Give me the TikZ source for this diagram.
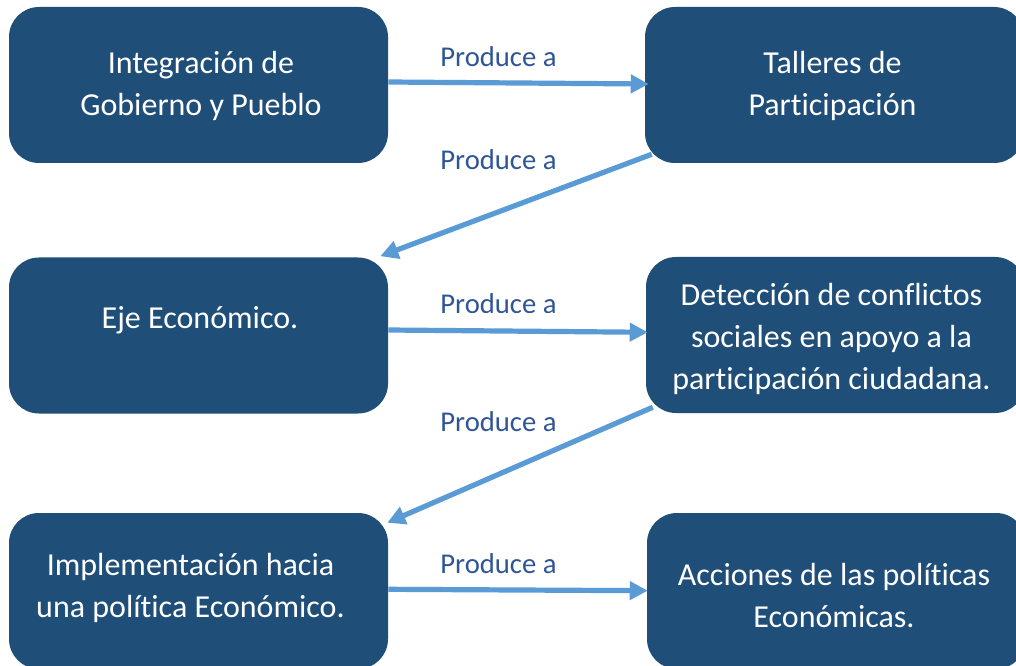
\documentclass[tikz,border=0pt]{standalone}
\usepackage{fontspec}
\setmainfont{Carlito}[Ligatures={NoCommon}]
\usetikzlibrary{arrows.meta,calc}
\definecolor{boxblue}{HTML}{1F4E79}
\definecolor{arrowblue}{HTML}{5B9BD5}
\definecolor{labelblue}{HTML}{2F5597}
% #1: twice the horizontal shift, #2: raise of the first baseline, #3: lines
\newcommand{\boxlines}[3]{\makebox[0pt][c]{\hspace{#1}\raisebox{#2}[0pt][0pt]{\begin{tabular}[t]{@{}c@{}}#3\end{tabular}}}}
\begin{document}
\begin{tikzpicture}[x=0.75pt,y=-0.75pt,
  box/.style={fill=boxblue, rounded corners=22.5pt, minimum width=284.25pt, minimum height=117pt,
    inner sep=0pt, text=white, font=\fontsize{24}{31.5}\selectfont},
  link/.style={draw=arrowblue, line width=3.9pt, -{Triangle[length=13.5pt,width=13.5pt]}},
  lab/.style={text=labelblue, font=\fontsize{21.5}{26}\selectfont, anchor=base, inner sep=0pt}]
\clip (0,0) rectangle (1016,666);
\fill[white] (0,0) rectangle (1016,666);

\node[box] (b1) at (198.5,85) {\boxlines{3.75pt}{8.25pt}{Integración de\\Gobierno y Pueblo}};
\node[box] (b2) at (834.5,85) {\boxlines{-3pt}{8.25pt}{Talleres de\\Participación}};
\node[box] (b3) at (198.5,335.5) {\boxlines{2.25pt}{5.4pt}{Eje Económico.}};
\node[box] (b4) at (835.5,335) {\boxlines{-6pt}{22.5pt}{Detección de conflictos\\sociales en apoyo a la\\participación ciudadana.}};
\node[box] (b5) at (198.5,591) {\boxlines{-12pt}{12pt}{Implementación hacia\\una política Económico.}};
\node[box] (b6) at (836.5,591) {\boxlines{-3.75pt}{4.5pt}{Acciones de las políticas\\Económicas.}};

\draw[link] ($(b1.east)+(0,-3)$) -- ($(b2.west)+(4,-1)$);
\draw[link] ($(b2.south west)+(7,-9)$) -- ($(b3.north east)+(-8,-1)$);
\draw[link] ($(b3.east)+(0,-5.5)$) -- ($(b4.west)+(2,-2.7)$);
\draw[link] ($(b4.south west)+(7,-6)$) -- ($(b5.north east)+(-1,10)$);
\draw[link] ($(b5.east)+(0,-1.7)$) -- ($(b6.west)+(1,-0.3)$);

\node[lab] (l1) at (498.5,67) {Produce a};
\node[lab] (l2) at (498.5,170) {Produce a};
\begin{scope}
\clip (400,280) rectangle (620,312.7);
\node[lab] (l3) at (498.5,313.5) {Produce a};
\end{scope}
\node[lab] (l4) at (498.5,431) {Produce a};
\node[lab] (l5) at (498.5,573) {Produce a};
\end{tikzpicture}
\end{document}
